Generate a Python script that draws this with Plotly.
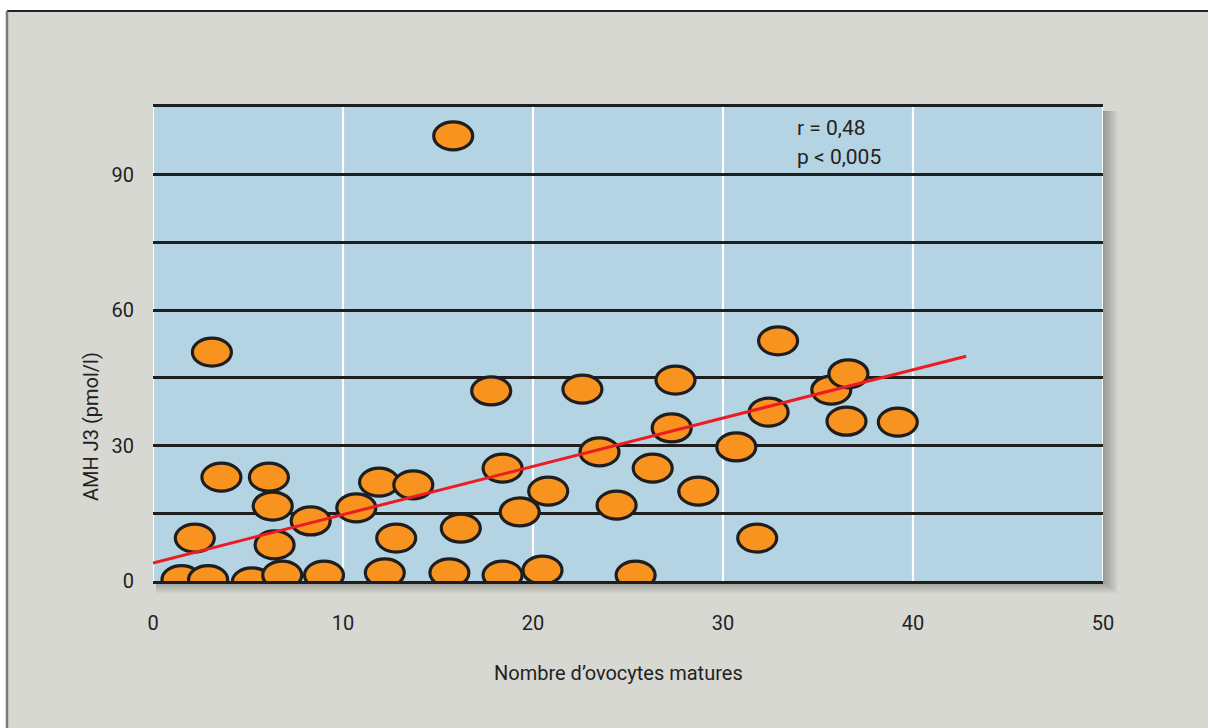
import plotly.graph_objects as go

# ---- data ----
ovocytes = [15.8, 3.1, 3.6, 6.1, 6.3, 2.2, 6.4, 8.3, 1.5, 2.9, 5.2, 6.8, 9.0,
            10.7, 11.9, 13.7, 12.8, 12.2, 15.6, 16.2, 17.8, 18.4, 19.3, 18.4,
            20.8, 20.5, 22.6, 23.5, 24.4, 25.4, 26.3, 27.5, 27.3, 28.7, 30.7,
            31.8, 32.9, 32.4, 35.7, 36.6, 36.5, 39.2]
amh = [98.6, 50.7, 23.0, 23.0, 16.6, 9.5, 8.0, 13.3, 0.3, 0.3, -0.2, 1.3, 1.3,
       16.2, 21.9, 21.3, 9.5, 1.8, 1.8, 11.7, 42.1, 25.0, 15.3, 1.3,
       19.9, 2.4, 42.5, 28.6, 16.8, 1.3, 25.0, 44.5, 33.9, 19.9, 29.7,
       9.5, 53.2, 37.4, 42.3, 45.9, 35.4, 35.2]
fit_x = [0.0, 42.8]
fit_y = [4.0, 49.8]

x_ticks = [0, 10, 20, 30, 40, 50]
x_ticktext = ["0", "10", "20", "30", "40", "50"]
y_ticks = [0, 15, 30, 45, 60, 75, 90, 105]
y_ticktext = ["0", "", "30", "", "60", "", "90", ""]
x_range = [0, 50]
y_range = [0, 105]

stats_lines = ["r = 0,48", "p < 0,005"]
x_title = "Nombre d’ovocytes matures"
y_title = "AMH J3 (pmol/l)"

# ---- style ----
FONT = "Roboto, Liberation Sans Narrow, DejaVu Sans Condensed, sans-serif"
PAPER = "#d8d8d3"
PLOTBG = "#b4d3e3"
ORANGE = "#f7931e"
DARK = "#1e1e1e"
RED = "#ed1c24"

W, H = 1208, 728
L, R, T, B = 153, 105, 107, 147
PW, PH = W - L - R, H - T - B


def px_x(p):  # pixel -> paper x
    return (p - L) / PW


def px_y(p):  # pixel -> paper y
    return (H - B - p) / PH


shapes = []
# outer frame
shapes.append(dict(type="rect", xref="paper", yref="paper",
                   x0=px_x(7), x1=px_x(W + 10), y0=px_y(H + 10), y1=px_y(11),
                   fillcolor=PAPER, line=dict(width=0), layer="below"))
shapes.append(dict(type="line", xref="paper", yref="paper",
                   x0=px_x(7), x1=px_x(W + 10), y0=px_y(11), y1=px_y(11),
                   line=dict(color="#222222", width=2), layer="below"))
shapes.append(dict(type="line", xref="paper", yref="paper",
                   x0=px_x(7), x1=px_x(7), y0=px_y(11), y1=px_y(H + 10),
                   line=dict(color="#7a7a78", width=2.5), layer="below"))
# soft drop shadow of plot area
for k in range(1, 14):
    shapes.append(dict(type="rect", xref="paper", yref="paper",
                       x0=px_x(L + 3), x1=px_x(L + PW + k * 1.15),
                       y0=px_y(T + PH + k * 0.95), y1=px_y(T + 4),
                       fillcolor="rgba(0,0,0,0.022)", line=dict(width=0),
                       layer="below"))
# plot background
shapes.append(dict(type="rect", xref="paper", yref="paper",
                   x0=0, x1=1, y0=0, y1=1,
                   fillcolor=PLOTBG, line=dict(width=0), layer="below"))
# white vertical grid lines (above black horizontal lines)
for xv in x_ticks:
    shapes.append(dict(type="line", xref="x", yref="paper",
                       x0=xv, x1=xv, y0=0, y1=1,
                       line=dict(color="white", width=2.2), layer="between"))
# ellipse markers
for xv, yv in zip(ovocytes, amh):
    shapes.append(dict(type="circle", xref="x", yref="y",
                       xsizemode="pixel", ysizemode="pixel",
                       xanchor=xv, yanchor=yv,
                       x0=-19.5, x1=19.5, y0=-14, y1=14,
                       fillcolor=ORANGE, line=dict(color=DARK, width=3.2),
                       layer="between"))

fig = go.Figure()
fig.add_trace(go.Scatter(x=ovocytes, y=amh, mode="markers",
                         marker=dict(size=30, opacity=0), showlegend=False,
                         hovertemplate="%{x}, %{y}<extra></extra>"))
fig.add_trace(go.Scatter(x=fit_x, y=fit_y, mode="lines",
                         line=dict(color=RED, width=3), showlegend=False,
                         hoverinfo="skip"))

annotations = [
    dict(text=stats_lines[0], xref="x", yref="paper", x=33.8, y=px_y(128),
         xanchor="left", yanchor="middle", showarrow=False,
         font=dict(family=FONT, size=21, color="#222")),
    dict(text=stats_lines[1], xref="x", yref="paper", x=33.8, y=px_y(157),
         xanchor="left", yanchor="middle", showarrow=False,
         font=dict(family=FONT, size=21, color="#222")),
    dict(text=x_title, xref="paper", yref="paper", x=px_x(618), y=px_y(673),
         xanchor="center", yanchor="middle", showarrow=False,
         font=dict(family=FONT, size=20, color="#222")),
    dict(text=y_title, xref="paper", yref="paper", x=px_x(91), y=px_y(427),
         xanchor="center", yanchor="middle", showarrow=False, textangle=-90,
         font=dict(family=FONT, size=20, color="#222")),
]

fig.update_layout(
    width=W, height=H,
    margin=dict(l=L, r=R, t=T, b=B, pad=0),
    paper_bgcolor="white",
    plot_bgcolor="rgba(0,0,0,0)",
    font=dict(family=FONT, size=20, color="#222"),
    shapes=shapes,
    annotations=annotations,
    xaxis=dict(range=x_range, tickmode="array", tickvals=x_ticks,
               ticktext=x_ticktext, showgrid=False, zeroline=False,
               showline=True, mirror=True, linecolor=DARK, linewidth=3,
               ticks="outside", ticklen=22, tickcolor="rgba(0,0,0,0)",
               tickfont=dict(family=FONT, size=20, color="#222")),
    yaxis=dict(range=y_range, tickmode="array", tickvals=y_ticks,
               ticktext=y_ticktext, showgrid=True, gridcolor=DARK,
               gridwidth=2.5, zeroline=False, showline=False,
               ticks="outside", ticklen=14, tickcolor="rgba(0,0,0,0)",
               tickfont=dict(family=FONT, size=20, color="#222")),
    hovermode="closest",
)

fig.write_html("out.html",
               config={"displayModeBar": False},
               post_script="document.body.style.margin='0';"
                           "document.body.style.overflow='hidden';")
